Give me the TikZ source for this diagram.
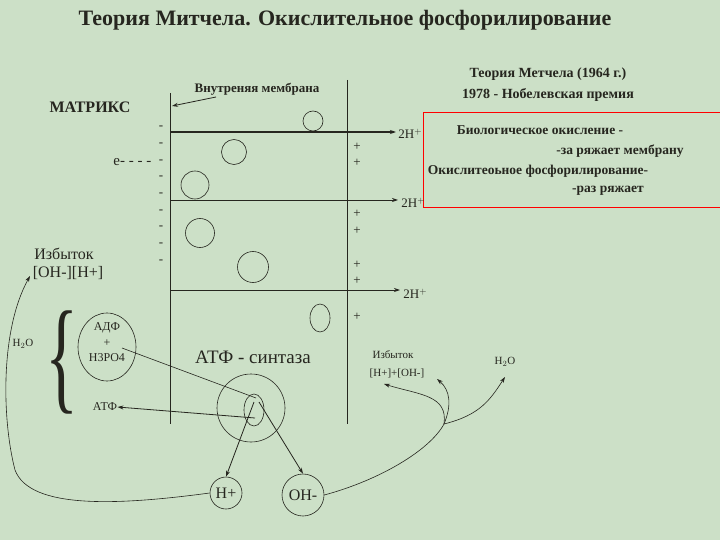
\documentclass[tikz,border=0pt]{standalone}
\usepackage{fontspec}
\setmainfont{Liberation Serif}
\usetikzlibrary{arrows.meta}
\definecolor{bg}{rgb}{0.80,0.88,0.78}
\definecolor{ink}{rgb}{0.15,0.15,0.12}
\begin{document}
\begin{tikzpicture}[x=1pt,y=-1pt,line width=0.8pt,draw=ink,text=ink,
  arr/.style={-{Stealth[length=6pt,width=4pt]}},
  thin1/.style={line width=0.6pt},
  lab/.style={inner sep=0pt,font=\fontsize{13}{14}\selectfont},
  btxt/.style={inner sep=0pt,font=\bfseries\fontsize{14}{15}\selectfont}]
\fill[bg] (0,0) rectangle (720,540);
\useasboundingbox (0,0) rectangle (720,540);
% title
\node[btxt,font=\bfseries\fontsize{22}{24}\selectfont] (title) at (345,20) {Теория Митчела. Окислительное фосфорилирование};
\node[btxt] (t1) at (548,74) {Теория Метчела (1964 г.)};
\node[btxt] (t2) at (548,95) {1978 - Нобелевская премия};
\node[btxt,font=\bfseries\fontsize{16}{17}\selectfont] (mat) at (90,107) {МАТРИКС};
\node[btxt,font=\bfseries\fontsize{13}{14}\selectfont] (mem) at (257,89) {Внутреняя мембрана};
\coordinate (memS) at (216,97); \coordinate (memE) at (172,106);
\draw[arr] (memS) -- (memE);
% red box
\draw[red,line width=1pt] (423,113) rectangle (721,208);
\node[btxt,font=\bfseries\fontsize{13.5}{15}\selectfont] (b1) at (540,130) {Биологическое окисление -};
\node[btxt,font=\bfseries\fontsize{13.5}{15}\selectfont] (b2) at (620,151) {-за ряжает мембрану};
\node[btxt,font=\bfseries\fontsize{13.5}{15}\selectfont] (b3) at (538,171) {Окислитеоьное фосфорилирование-};
\node[btxt,font=\bfseries\fontsize{13.5}{15}\selectfont] (b4) at (608,191) {-раз ряжает};
% membrane lines
\coordinate (L1) at (170,93); \coordinate (L2) at (170,424);
\coordinate (R1) at (347,80); \coordinate (R2) at (347,424);
\draw (L1) -- (L2); \draw (R1) -- (R2);
\node[lab,anchor=west] (h1) at (398,134) {2H$^{+}$};
\node[lab,anchor=west] (h2) at (401,203) {2H$^{+}$};
\node[lab,anchor=west] (h3) at (403,294) {2H$^{+}$};
\coordinate (a1) at (170,132); \coordinate (a2) at (170,200); \coordinate (a3) at (170,290);
\coordinate (b1e) at (396,132); \coordinate (b2e) at (398,200); \coordinate (b3e) at (400,290);
\draw[arr,line width=1.2pt] (a1) -- (b1e);
\draw[arr] (a2) -- (b2e);
\draw[arr] (a3) -- (b3e);
\foreach \y in {147,163,214,231,265,281,317} \node[lab] at (357,\y) {+};
\foreach \y in {128,145,162,178,195,212,228,245,262} \node[lab] at (161,\y) {-};
\node[lab,font=\fontsize{15}{16}\selectfont,anchor=west] (e) at (113,162) {e- - - -};
% circles
\draw[thin1] (313,121) circle (10);
\draw[thin1] (234,152) circle (12.5);
\draw[thin1] (195,185) circle (14);
\draw[thin1] (200,233) circle (14.5);
\draw[thin1] (253,267) circle (15.5);
\draw[thin1] (320,318) ellipse (10 and 14);
% left
\node[lab,font=\fontsize{16}{17}\selectfont] (izb) at (64,254) {Избыток};
\node[lab,font=\fontsize{16}{17}\selectfont] (ohh) at (68,273) {[OH-][H+]};
\node[lab,font=\fontsize{125}{125}\selectfont,xscale=0.55] (brace) at (62,362) {\{};
\node[lab,font=\fontsize{11}{12}\selectfont] (h2ol) at (23,344) {H$_2$O};
\draw[thin1] (107,347) ellipse (29 and 34);
\node[lab,font=\fontsize{12}{13}\selectfont] (adf) at (107,328) {АДФ};
\node[lab,font=\fontsize{12}{13}\selectfont] at (107,343) {+};
\node[lab,font=\fontsize{12}{13}\selectfont] (h3po) at (107,358) {H3PO4};
\node[lab,font=\fontsize{12}{13}\selectfont] (atf) at (105,407) {АТФ};
\node[lab,font=\fontsize{19}{20}\selectfont] (syn) at (253,357) {АТФ - синтаза};
% synthase
\draw[thin1] (251,408) ellipse (34 and 34);
\draw[thin1] (254,410) ellipse (10 and 16);
\coordinate (adfp) at (122,348); \coordinate (c0) at (256,398);
\draw[thin1] (adfp) -- (c0);
\coordinate (c1) at (255,418);
\draw[arr] (c1) -- (atf.east);
\node[draw,circle,thin1,minimum size=32pt,inner sep=0pt,font=\fontsize{16}{17}\selectfont] (hp) at (226,493) {H+};
\node[draw,circle,thin1,minimum size=42pt,inner sep=0pt,font=\fontsize{16}{17}\selectfont] (oh) at (303,495) {OH-};
\coordinate (c2) at (254,402); \coordinate (c3) at (259,402);
\draw[arr] (c2) -- (hp.north);
\draw[arr] (c3) -- (oh.north);
% right
\node[lab,font=\fontsize{11}{12}\selectfont] (izb2) at (393,355) {Избыток};
\node[lab,font=\fontsize{11}{12}\selectfont] (hoh) at (397,373) {[H+]+[OH-]};
\node[lab,font=\fontsize{11}{12}\selectfont] (h2or) at (505,362) {H$_2$O};
\coordinate (sp) at (444,424);
\coordinate (e1) at (384,384); \coordinate (e2) at (437,379); \coordinate (e3) at (505,377);
\draw[thin1] (oh.east) .. controls (380,480) and (430,450) .. (sp);
\draw[thin1,arr] (sp) .. controls (448,395) and (420,395) .. (e1);
\draw[thin1,arr] (sp) .. controls (452,405) and (450,390) .. (e2);
\draw[thin1,arr] (sp) .. controls (480,415) and (490,400) .. (e3);
\coordinate (lt) at (30,276);
\draw[thin1,arr] (hp.west) .. controls (120,505) and (30,510) .. (15,470) .. controls (2,420) and (0,330) .. (lt);
\end{tikzpicture}
\end{document}
